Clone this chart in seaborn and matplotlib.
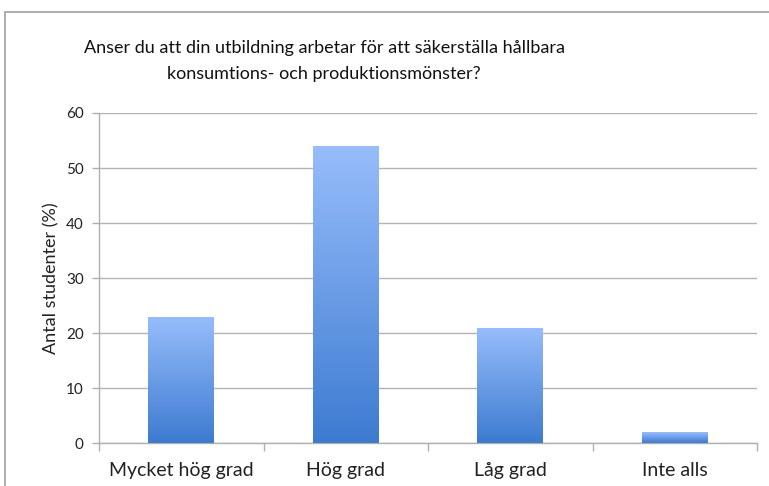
import numpy as np
import pandas as pd
import matplotlib
matplotlib.use("Agg")
import matplotlib.pyplot as plt
import seaborn as sns
from matplotlib.colors import LinearSegmentedColormap
from matplotlib.patches import Rectangle

categories = ["Mycket hög grad", "Hög grad", "Låg grad", "Inte alls"]
values = [23, 54, 21, 2]
yticks = [0, 10, 20, 30, 40, 50, 60]
title = "Anser du att din utbildning arbetar för att säkerställa hållbara\nkonsumtions- och produktionsmönster?"
ylabel = "Antal studenter (%)"

sns.set_theme(style="white")
plt.rcParams['font.family'] = ['Lato', 'DejaVu Sans']

fig = plt.figure(figsize=(7.69, 4.86), dpi=100)
ax = fig.add_axes([99/769, 1-443/486, (757-99)/769, (443-113)/486])

df = pd.DataFrame({"cat": categories, "val": values})
sns.barplot(data=df, x="cat", y="val", ax=ax, width=0.4, color="#6a9be0", saturation=1)

cmap = LinearSegmentedColormap.from_list("g", ["#3d7bd0", "#97bdfb"])
grad = np.linspace(0, 1, 256).reshape(-1, 1)
for p in ax.patches:
    x0, y0 = p.get_x(), p.get_y()
    w, h = p.get_width(), p.get_height()
    im = ax.imshow(grad, cmap=cmap, origin="lower", aspect="auto",
                   extent=[x0, x0 + w, y0, y0 + h], zorder=3)
    im.set_clip_path(p)
    p.set_edgecolor("none")

ax.set_xlim(-0.5, 3.5)
ax.set_ylim(0, 60)
ax.set_yticks(yticks)
ax.set_yticklabels([str(t) for t in yticks], fontsize=11, color="#222222")
ax.set_xticks(range(len(categories)))
ax.set_xticklabels(categories, fontsize=14, color="#222222")
ax.set_xticks([-0.5, 0.5, 1.5, 2.5, 3.5], minor=True)
ax.tick_params(axis="x", which="major", length=0, pad=14)
ax.tick_params(axis="x", which="minor", length=6, color="#b0b0b0", width=1, direction="out", bottom=True)
ax.tick_params(axis="y", length=5, color="#b0b0b0", width=1, direction="out", left=True, pad=6)
ax.grid(axis="y", color="#b3b3b3", linewidth=1)
ax.set_axisbelow(True)
for s in ["top", "right"]:
    ax.spines[s].set_visible(False)
for s in ["left", "bottom"]:
    ax.spines[s].set_color("#b0b0b0")
    ax.spines[s].set_linewidth(1)
ax.set_xlabel("")
ax.set_ylabel(ylabel, fontsize=13, color="#222222", labelpad=5)

fig.text(324/769, 1-61/486, title, ha="center", va="center", multialignment="center",
         fontsize=13, color="#111111", linespacing=1.75)

fig.patches.append(Rectangle((5/769, -0.1), 1.2, 1.1 - 12/486, transform=fig.transFigure,
                             fill=False, edgecolor="#a0a0a0", linewidth=1.2, figure=fig))

fig.savefig("out.png", dpi=100)
